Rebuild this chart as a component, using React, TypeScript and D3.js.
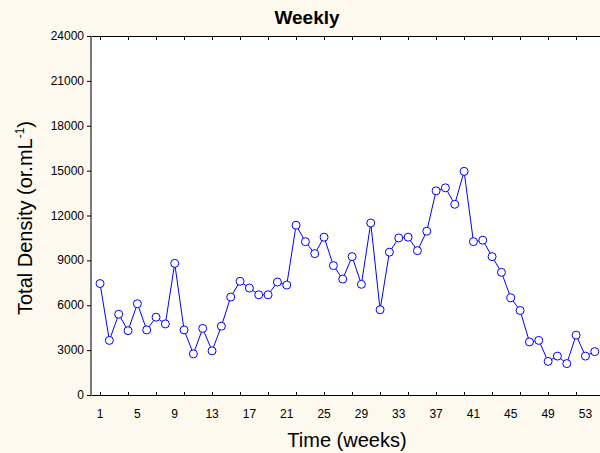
import React from "react";
import * as d3 from "d3";

// Weekly total density (organisms per mL), weeks 1–54
const weeks: number[] = Array.from({ length: 54 }, (_, i) => i + 1);
const density: number[] = [
  7450, 3650, 5400, 4300, 6100, 4350, 5200, 4750, 8800, 4350,
  2750, 4450, 2950, 4600, 6550, 7600, 7150, 6700, 6700, 7550,
  7350, 11350, 10250, 9450, 10550, 8650, 7750, 9250, 7400, 11500,
  5700, 9550, 10500, 10550, 9650, 10950, 13650, 13850, 12750, 14950,
  10250, 10350, 9250, 8200, 6500, 5650, 3550, 3650, 2250, 2600,
  2100, 4000, 2600, 2900,
];
const yTicks: number[] = [0, 3000, 6000, 9000, 12000, 15000, 18000, 21000, 24000];
const xLabelWeeks: number[] = [1, 5, 9, 13, 17, 21, 25, 29, 33, 37, 41, 45, 49, 53];
const xTickWeeks: number[] = d3.range(1, 56, 3);

const W = 600;
const H = 453;
const plotLeft = 91;
const plotTop = 36;
const plotBottom = 395;
const plotRight = 640;

const x = d3.scaleLinear().domain([0, 57]).range([90.7, 90.7 + 57 * 9.335]);
const y = d3.scaleLinear().domain([0, 24000]).range([plotBottom, plotTop]);

const font = "'Liberation Sans', Arial, sans-serif";

export default function App() {
  const line = d3
    .line<number>()
    .x((_, i) => x(weeks[i]))
    .y((d) => y(d));

  return (
    <svg
      width={W}
      height={H}
      style={{ position: "absolute", left: 0, top: 0, display: "block" }}
      fontFamily={font}
    >
      <rect x={0} y={0} width={W} height={H} fill="#fdf9ef" />
      <rect
        x={plotLeft}
        y={plotTop}
        width={plotRight - plotLeft}
        height={plotBottom - plotTop}
        fill="#ffffff"
      />
      {/* frame */}
      <line x1={plotLeft} x2={plotRight} y1={plotTop + 0.5} y2={plotTop + 0.5} stroke="#000" strokeWidth={1} />
      <line x1={plotLeft} x2={plotRight} y1={plotBottom + 0.5} y2={plotBottom + 0.5} stroke="#000" strokeWidth={1} />
      <line x1={plotLeft} x2={plotLeft} y1={plotTop} y2={plotBottom + 1} stroke="#7a7a7a" strokeWidth={2} />

      {/* y ticks and labels */}
      {yTicks.map((t) => (
        <g key={t}>
          <line x1={plotLeft - 4} x2={plotLeft} y1={y(t) + 0.5} y2={y(t) + 0.5} stroke="#000" strokeWidth={1} />
          <text x={84} y={y(t) + 4} fontSize={12} textAnchor="end" fill="#000">
            {t}
          </text>
        </g>
      ))}

      {/* x ticks, top and bottom, pointing inward */}
      {xTickWeeks.map((w) => (
        <g key={w}>
          <line x1={Math.round(x(w)) + 0.5} x2={Math.round(x(w)) + 0.5} y1={plotTop} y2={plotTop + 4} stroke="#000" strokeWidth={1} />
          <line x1={Math.round(x(w)) + 0.5} x2={Math.round(x(w)) + 0.5} y1={plotBottom - 3} y2={plotBottom + 1} stroke="#000" strokeWidth={1} />
        </g>
      ))}
      {xLabelWeeks.map((w) => (
        <text key={w} x={x(w)} y={418} fontSize={12} textAnchor="middle" fill="#000">
          {w}
        </text>
      ))}

      {/* series */}
      <path d={line(density) ?? ""} fill="none" stroke="#0000ff" strokeWidth={1} />
      {density.map((d, i) => (
        <circle key={i} cx={x(weeks[i])} cy={y(d)} r={4} fill="#ffffff" stroke="#0000ff" strokeWidth={1} />
      ))}

      {/* titles */}
      <text x={307} y={24} fontSize={19} fontWeight="bold" textAnchor="middle" fill="#000">
        Weekly
      </text>
      <text x={347} y={447} fontSize={20} textAnchor="middle" fill="#000">
        Time (weeks)
      </text>
      <text
        transform="translate(32,218) rotate(-90)"
        fontSize={20}
        textAnchor="middle"
        fill="#000"
      >
        Total Density (or.mL
        <tspan fontSize={12} dy={-8}>-1</tspan>
        <tspan dy={8}>)</tspan>
      </text>
    </svg>
  );
}
